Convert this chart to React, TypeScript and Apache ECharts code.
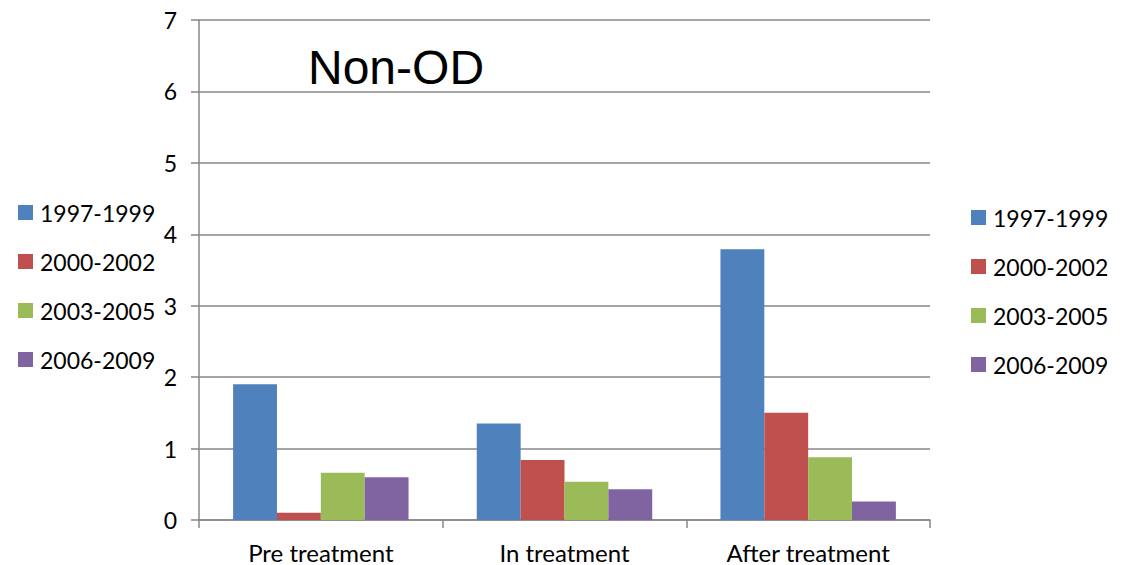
import React, { useEffect, useRef } from "react";
import * as echarts from "echarts";

const categories = ["Pre treatment", "In treatment", "After treatment"];
const seriesNames = ["1997-1999", "2000-2002", "2003-2005", "2006-2009"];
const s1997 = [1.9, 1.35, 3.79];
const s2000 = [0.1, 0.84, 1.5];
const s2003 = [0.66, 0.535, 0.88];
const s2006 = [0.6, 0.43, 0.26];
const colors = ["#4F81BD", "#C0504D", "#9BBB59", "#8064A2"];
const yTicks = [0, 1, 2, 3, 4, 5, 6, 7];

export default function App() {
  const ref = useRef<HTMLDivElement>(null);
  useEffect(() => {
    if (!ref.current) return;
    const chart = echarts.init(ref.current, null, { renderer: "svg" });
    const font = "Lato, 'Noto Sans', sans-serif";
    const gray = "#878787";
    const values = [s1997, s2000, s2003, s2006];
    const legendBase = {
      orient: "vertical" as const,
      itemWidth: 15,
      itemHeight: 15,
      itemGap: 26,
      padding: 0,
      icon: "rect",
      data: seriesNames,
      textStyle: { fontFamily: font, fontSize: 23, color: "#000", lineHeight: 22, padding: [0, 0, 0, 2] },
    };
    chart.setOption({
      animation: false,
      backgroundColor: "#fff",
      color: colors,
      title: {
        text: "Non-OD",
        left: 303,
        top: 38,
        textStyle: { fontFamily: "'Liberation Sans', Arial, sans-serif", fontSize: 48, fontWeight: "normal", color: "#000" },
      },
      legend: [
        { ...legendBase, left: 18, top: 201 },
        { ...legendBase, left: 971, top: 206 },
      ],
      grid: { left: 199, right: 196, top: 20, bottom: 45, containLabel: false },
      xAxis: {
        type: "category",
        data: categories,
        axisLine: { lineStyle: { color: gray, width: 1.5 } },
        axisTick: { show: true, length: 8, alignWithLabel: false, lineStyle: { color: gray, width: 1.5 } },
        axisLabel: { fontFamily: font, fontSize: 24, color: "#000", margin: 20 },
      },
      yAxis: {
        type: "value",
        min: yTicks[0],
        max: yTicks[yTicks.length - 1],
        interval: 1,
        axisLine: { show: true, lineStyle: { color: gray, width: 1.5 } },
        axisTick: { show: true, length: 8, lineStyle: { color: gray, width: 1.5 } },
        axisLabel: { fontFamily: font, fontSize: 23, color: "#000", margin: 22 },
        splitLine: { show: true, lineStyle: { color: gray, width: 1.5 } },
      },
      series: seriesNames.map((name, i) => ({
        name,
        type: "bar",
        data: values[i],
        barGap: "0%",
        barCategoryGap: "28%",
        itemStyle: { color: colors[i] },
      })),
    });
    return () => chart.dispose();
  }, []);
  return (
    <div
      ref={ref}
      style={{ position: "fixed", left: 0, top: 0, width: 1126, height: 565 }}
    />
  );
}
